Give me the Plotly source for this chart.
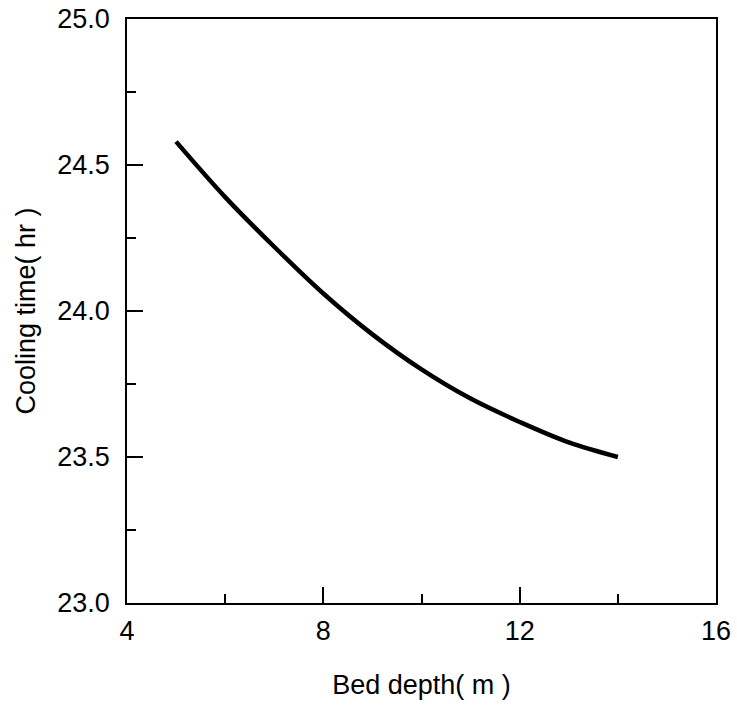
import plotly.graph_objects as go

bed_depth = [5, 6, 7, 8, 9, 10, 11, 12, 13, 14]
cooling_time = [24.58, 24.39, 24.22, 24.06, 23.92, 23.80, 23.70, 23.62, 23.55, 23.50]

x_ticks = [4, 8, 12, 16]
y_ticks = [23.0, 23.5, 24.0, 24.5, 25.0]

FONT = "Liberation Sans, Arial, sans-serif"

fig = go.Figure()
fig.add_trace(go.Scatter(x=bed_depth, y=cooling_time, mode="lines",
                         line=dict(color="black", width=4.5, shape="spline", smoothing=1.0),
                         showlegend=False, hoverinfo="skip"))

fig.update_layout(
    width=737, height=708,
    margin=dict(l=127, r=21, t=19, b=105),
    plot_bgcolor="white", paper_bgcolor="white",
    font=dict(family=FONT, color="black", size=27),
)
fig.update_xaxes(range=[4, 16], tickvals=x_ticks, ticktext=[str(v) for v in x_ticks],
                 automargin=False,
                 showgrid=False, zeroline=False, showline=True, linecolor="black", linewidth=1.5,
                 mirror=True, ticks="inside", ticklen=16, tickwidth=1.5, tickcolor="black",
                 ticklabelstandoff=3,
                 minor=dict(tickvals=[6, 10, 14], ticks="inside", ticklen=9, tickwidth=1.5, tickcolor="black"),
                 tickfont=dict(size=27),
                 title=dict(text="Bed depth( m )", font=dict(size=27), standoff=30))
fig.update_yaxes(range=[23, 25], tickvals=y_ticks, ticktext=[f"{v:.1f}" for v in y_ticks],
                 automargin=False,
                 showgrid=False, zeroline=False, showline=True, linecolor="black", linewidth=1.5,
                 mirror=True, ticks="inside", ticklen=16, tickwidth=1.5, tickcolor="black",
                 ticklabelstandoff=10,
                 minor=dict(tickvals=[23.25, 23.75, 24.25, 24.75], ticks="inside", ticklen=9, tickwidth=1.5, tickcolor="black"),
                 tickfont=dict(size=27),
                 title=dict(text="Cooling time( hr )", font=dict(size=27), standoff=14))

fig.write_html("out.html", config={"displayModeBar": False},
               post_script="document.body.style.margin='0';document.body.style.overflow='hidden';")
